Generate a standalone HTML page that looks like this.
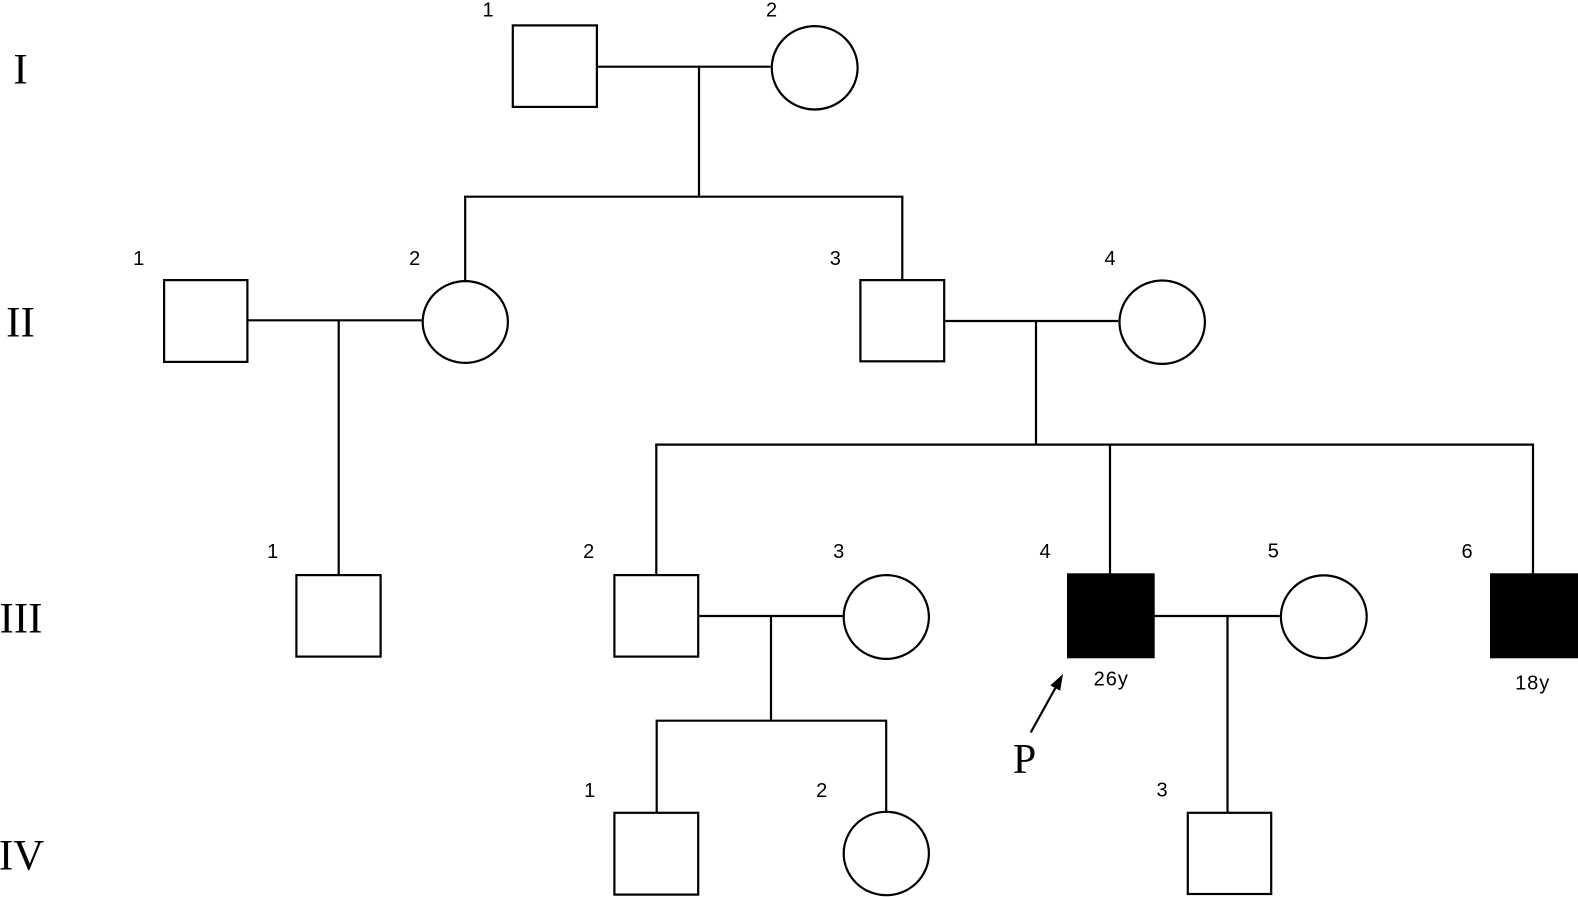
<!DOCTYPE html>
<html>
<head>
<meta charset="utf-8">
<style>
  html,body{margin:0;padding:0;background:#fff;}
  body{width:1578px;height:897px;overflow:hidden;}
  svg{display:block;}
  .n{font-family:"Liberation Sans",sans-serif;font-size:20px;fill:#000;text-anchor:middle;}
  .r{font-family:"Liberation Serif",serif;font-size:43px;fill:#000;text-anchor:middle;}
</style>
</head>
<body>
<svg width="1578" height="897" viewBox="0 0 1578 897" xmlns="http://www.w3.org/2000/svg">
  <g fill="none" stroke="#000" stroke-width="2.2">
    <!-- Generation I -->
    <rect x="512.8" y="25.4" width="84.1" height="81.5"/>
    <ellipse cx="814.7" cy="67.8" rx="42.9" ry="41.7"/>
    <line x1="598" y1="66.7" x2="770.7" y2="66.7"/>
    <line x1="699" y1="66.7" x2="699" y2="196.7"/>
    <line x1="464" y1="196.7" x2="903.4" y2="196.7"/>
    <line x1="465.2" y1="196.7" x2="465.2" y2="281"/>
    <line x1="902.3" y1="196.7" x2="902.3" y2="279.5"/>

    <!-- Generation II -->
    <rect x="164.1" y="280.1" width="83.3" height="81.8"/>
    <line x1="248" y1="320.3" x2="421.7" y2="320.3"/>
    <line x1="338.7" y1="320.3" x2="338.7" y2="574.5"/>
    <ellipse cx="465.3" cy="322" rx="42.6" ry="40.9"/>

    <rect x="860.4" y="280.1" width="83.8" height="81.2"/>
    <line x1="945.3" y1="321" x2="1118.3" y2="321"/>
    <line x1="1036" y1="321" x2="1036" y2="444.6"/>
    <ellipse cx="1162.2" cy="322.2" rx="42.7" ry="41.7"/>

    <line x1="655.2" y1="444.6" x2="1534.1" y2="444.6"/>
    <line x1="656.3" y1="444.6" x2="656.3" y2="574.5"/>
    <line x1="1110" y1="444.6" x2="1110" y2="574"/>
    <line x1="1533" y1="444.6" x2="1533" y2="574"/>

    <!-- Generation III -->
    <rect x="296.4" y="575.1" width="84.2" height="81.5"/>
    <rect x="614.4" y="575.1" width="83.8" height="81.5"/>
    <line x1="699.3" y1="616" x2="842.7" y2="616"/>
    <line x1="771" y1="616" x2="771" y2="720.7"/>
    <ellipse cx="886.3" cy="617" rx="42.6" ry="41.9"/>

    <line x1="1154.7" y1="616" x2="1279.7" y2="616"/>
    <line x1="1227.5" y1="616" x2="1227.5" y2="812"/>
    <ellipse cx="1323.8" cy="616.8" rx="42.9" ry="41.4"/>

    <!-- Generation IV -->
    <line x1="655.6" y1="720.7" x2="887.1" y2="720.7"/>
    <line x1="656.7" y1="720.7" x2="656.7" y2="812"/>
    <line x1="886.2" y1="720.7" x2="886.2" y2="811"/>
    <rect x="614.4" y="812.8" width="83.8" height="81.8"/>
    <ellipse cx="886.3" cy="853.5" rx="42.6" ry="41.7"/>
    <rect x="1187.8" y="812.8" width="83.4" height="81.2"/>

    <!-- proband arrow -->
    <line x1="1030.7" y1="732.5" x2="1056.5" y2="686"/>
  </g>

  <!-- affected (filled) -->
  <rect x="1067" y="573.3" width="87.7" height="85" fill="#000"/>
  <rect x="1490" y="573.3" width="88" height="85" fill="#000"/>

  <!-- arrowhead -->
  <polygon points="1063,674 1060.2,690.8 1050.4,685.4" fill="#000"/>

  <!-- generation numerals -->
  <text class="r" x="20.5" y="83.5">I</text>
  <text class="r" x="20.5" y="336.7">II</text>
  <text class="r" x="21" y="632.7">III</text>
  <text class="r" x="21.5" y="869.3">IV</text>

  <!-- individual numbers -->
  <text class="n" x="488" y="16.5">1</text>
  <text class="n" x="771.5" y="16.5">2</text>

  <text class="n" x="138.7" y="265">1</text>
  <text class="n" x="414.7" y="265">2</text>
  <text class="n" x="835.3" y="265">3</text>
  <text class="n" x="1110" y="265">4</text>

  <text class="n" x="272.7" y="558">1</text>
  <text class="n" x="588.7" y="558">2</text>
  <text class="n" x="838.7" y="558">3</text>
  <text class="n" x="1045" y="558">4</text>
  <text class="n" x="1273.3" y="557.5">5</text>
  <text class="n" x="1467" y="558">6</text>

  <text class="n" x="589.7" y="797">1</text>
  <text class="n" x="821.7" y="797">2</text>
  <text class="n" x="1162" y="796.5">3</text>

  <!-- ages -->
  <text class="n" x="1111.3" y="685.5" style="letter-spacing:1px">26y</text>
  <text class="n" x="1532.7" y="689.5" style="letter-spacing:1px">18y</text>

  <!-- proband label -->
  <text class="r" x="1024.5" y="773" style="font-size:42px">P</text>
</svg>
</body>
</html>
